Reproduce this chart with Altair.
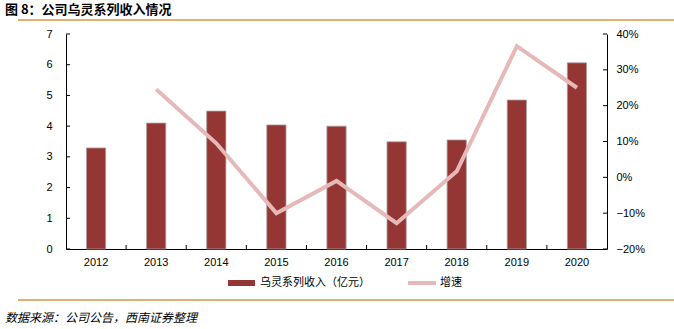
import altair as alt
import pandas as pd

years = ["2012", "2013", "2014", "2015", "2016", "2017", "2018", "2019", "2020"]
revenue = [3.29, 4.10, 4.49, 4.04, 4.00, 3.49, 3.55, 4.85, 6.06]
growth = [None, 0.246, 0.095, -0.10, -0.01, -0.128, 0.017, 0.366, 0.25]
left_ticks = [0, 1, 2, 3, 4, 5, 6, 7]
right_ticks = [-0.2, -0.1, 0, 0.1, 0.2, 0.3, 0.4]

title_text = "图 8：公司乌灵系列收入情况"
source_text = "数据来源：公司公告，西南证券整理"
bar_label = "乌灵系列收入（亿元）"
line_label = "增速"

BAR = "#943634"
LINE = "#E6B9B8"
ORANGE = "#D9963A"
FONT = "Liberation Sans"
CJK = "Noto Sans CJK SC"

df = pd.DataFrame({"year": years, "revenue": revenue, "growth": growth})
W, H = 541, 215

xscale = alt.Scale(domain=years, paddingInner=0.68, paddingOuter=0.34)
xaxis = alt.Axis(title=None, labelAngle=0, ticks=False, domainColor="#000", labelOverlap=False,
                 labelColor="#000", labelFont=FONT, labelFontSize=11, labelPadding=7)
xenc = alt.X("year:N", sort=years, scale=xscale, axis=xaxis)

yleft = alt.Scale(domain=[0, 7], nice=False)
yright = alt.Scale(domain=[-0.2, 0.4], nice=False)
laxis = alt.Axis(title=None, values=left_ticks, tickCount=8, ticks=False, grid=False, domainColor="#000",
                 labelOverlap=False, labelColor="#000", labelFont=FONT, labelFontSize=11,
                 labelPadding=14)
raxis = alt.Axis(title=None, orient="right", values=right_ticks, tickCount=7, format=".0%", ticks=False,
                 grid=False, domainColor="#000", labelOverlap=False, labelColor="#000",
                 labelFont=FONT, labelFontSize=11, labelPadding=9)

bars = alt.Chart(df).mark_bar(color=BAR, stroke="#B0A0A0", strokeWidth=0.8).encode(
    x=xenc,
    y=alt.Y("revenue:Q", scale=yleft, axis=laxis),
)
lt = alt.Chart(pd.DataFrame({"revenue": left_ticks})).mark_rule(color="#000", strokeWidth=1).encode(
    y=alt.Y("revenue:Q", scale=yleft, axis=laxis), x=alt.value(0), x2=alt.value(4))
left = alt.layer(bars, lt)

line = alt.Chart(df).mark_line(color=LINE, strokeWidth=4).encode(
    x=xenc,
    y=alt.Y("growth:Q", scale=yright, axis=raxis),
)
rt = alt.Chart(pd.DataFrame({"growth": right_ticks})).mark_rule(color="#000", strokeWidth=1).encode(
    y=alt.Y("growth:Q", scale=yright, axis=raxis), x=alt.value(W - 4), x2=alt.value(W))
right = alt.layer(line, rt)

xt = alt.Chart(pd.DataFrame({"year": years[1:]})).mark_rule(color="#000", strokeWidth=1, xOffset=-W / 18).encode(
    x=xenc, y=alt.value(H - 4), y2=alt.value(H))

one = alt.Data(values=[{"a": 1}])
title = alt.Chart(one).mark_text(text=title_text, font=CJK, fontSize=13, fontWeight="bold",
                                 align="left", baseline="middle", color="#000").encode(
    x=alt.value(-61), y=alt.value(-24))
top_rule = alt.Chart(one).mark_rule(color=ORANGE, strokeWidth=1.5).encode(
    x=alt.value(-48), x2=alt.value(608), y=alt.value(-14))
bot_rule = alt.Chart(one).mark_rule(color=ORANGE, strokeWidth=1.5).encode(
    x=alt.value(-48), x2=alt.value(608), y=alt.value(266))
source = alt.Chart(one).mark_text(text=source_text, font=CJK, fontSize=12, fontStyle="italic",
                                  align="left", baseline="middle", color="#000").encode(
    x=alt.value(-61), y=alt.value(284))
leg_bar = alt.Chart(one).mark_rule(color=BAR, strokeWidth=6).encode(
    x=alt.value(162), x2=alt.value(189), y=alt.value(249))
leg_bar_t = alt.Chart(one).mark_text(text=bar_label, font=CJK, fontSize=11, align="left",
                                     baseline="middle", color="#000").encode(
    x=alt.value(194), y=alt.value(249))
leg_line = alt.Chart(one).mark_rule(color=LINE, strokeWidth=4).encode(
    x=alt.value(342), x2=alt.value(370), y=alt.value(249))
leg_line_t = alt.Chart(one).mark_text(text=line_label, font=CJK, fontSize=11, align="left",
                                      baseline="middle", color="#000").encode(
    x=alt.value(374), y=alt.value(249))

chart = alt.layer(left, right, xt, title, top_rule, bot_rule, source,
                  leg_bar, leg_bar_t, leg_line, leg_line_t).resolve_scale(y="independent").properties(
    width=W, height=H,
    autosize=alt.AutoSizeParams(type="none"),
    padding={"left": 66, "top": 34, "right": 67, "bottom": 80},
    background="white",
).configure_view(stroke=None)

chart.save("out.html", embed_options={"renderer": "svg", "actions": False})
